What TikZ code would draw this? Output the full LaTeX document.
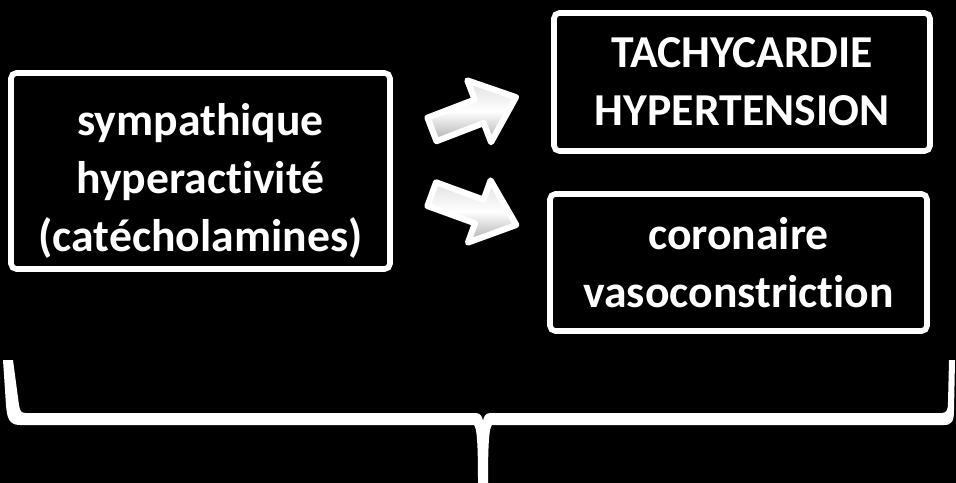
\documentclass[tikz,border=0pt]{standalone}
\usepackage{fontspec}
\setmainfont{Carlito}[Ligatures=NoCommon]
\usetikzlibrary{shapes.arrows}
\tikzstyle{box}=[draw=white,line width=3.2pt,rounded corners=3pt,fill=black,text=white,font=\fontsize{26}{33}\selectfont\bfseries,align=center,inner sep=0pt]
\tikzstyle{bigarrow}=[single arrow,draw=white,line width=3.5pt,line join=round,inner sep=0.19cm,minimum height=1.8cm,minimum width=1.2cm,single arrow head extend=0.41cm,single arrow tip angle=80,top color=gray!25,bottom color=gray!65,middle color=white]

\begin{document}
\begin{tikzpicture}[x=0.02cm,y=-0.02cm]
  \fill[black] (0,0) rectangle (956,483);
  \node[box,minimum width=7.58cm,minimum height=3.92cm] (sympa) at (200.5,171) {\rule{0pt}{30pt}sympathique\\hyperactivité\\(catécholamines)};
  \node[box,minimum width=7.52cm,minimum height=2.76cm] (tachy) at (742,82) {TACHYCARDIE\\HYPERTENSION};
  \node[box,minimum width=7.54cm,minimum height=2.74cm] (vaso) at (738.5,262.5) {coronaire\\vasoconstriction};
  \node[bigarrow,rotate=21] (arrUp) at (467,116) {};
  \node[bigarrow,rotate=-20] (arrDown) at (467,207) {};
  % brace
  \fill[white] (3,360) -- (13,360) -- (19,405) .. controls (20,411) and (21,413) .. (26,413)
    -- (476,413) .. controls (481,413) and (483,418) .. (483,422)
    .. controls (483,418) and (485,413) .. (490,413)
    -- (942,413) .. controls (947,413) and (948,409) .. (948,402)
    -- (949,360) -- (955,360) -- (954,410) .. controls (954,421) and (952,425) .. (944,425)
    -- (492,425) .. controls (489,428) and (488,445) .. (488,483)
    -- (478,483) .. controls (478,445) and (477,428) .. (474,425)
    -- (20,425) .. controls (9,425) and (7,418) .. (6,405) -- cycle;
\end{tikzpicture}
\end{document}
